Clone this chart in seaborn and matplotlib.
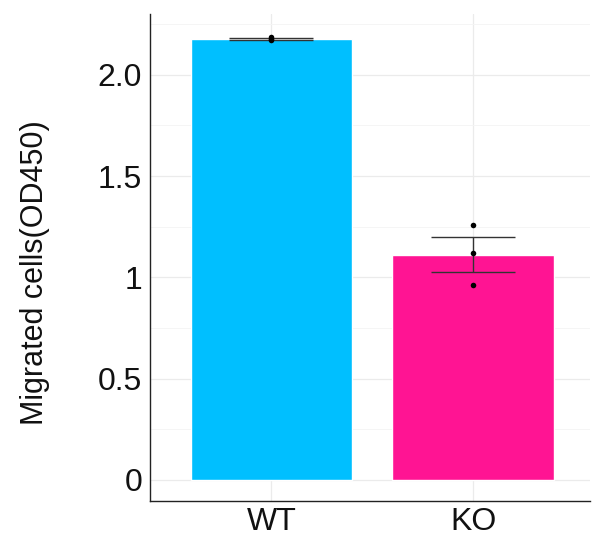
import numpy as np
import pandas as pd
import matplotlib.pyplot as plt
import seaborn as sns

# values
groups = ["WT", "KO"]
wt_points = [2.185, 2.175, 2.17]
ko_points = [1.256, 1.118, 0.96]
bar_colors = ["#00BFFF", "#FF1493"]
y_ticks = [0, 0.5, 1, 1.5, 2.0]
y_tick_labels = ["0", "0.5", "1", "1.5", "2.0"]

df = pd.DataFrame({
    "group": ["WT"] * len(wt_points) + ["KO"] * len(ko_points),
    "value": wt_points + ko_points,
})
stats = df.groupby("group", sort=False)["value"].agg(["mean", "std", "count"])
stats["se"] = stats["std"] / np.sqrt(stats["count"])

sns.set_style("white")
plt.rcParams["font.family"] = ["Liberation Sans", "DejaVu Sans"]

fig, ax = plt.subplots(figsize=(5.92, 5.40), dpi=100)

sns.barplot(data=df, x="group", y="value", order=groups, hue="group",
            palette=bar_colors, errorbar=None, width=0.8, saturation=1,
            legend=False, ax=ax, zorder=2)

ax.errorbar(x=range(len(groups)), y=stats.loc[groups, "mean"],
            yerr=stats.loc[groups, "se"], fmt="none", ecolor="#333333",
            elinewidth=1, capsize=30, capthick=1, zorder=3)

sns.stripplot(data=df, x="group", y="value", order=groups, jitter=False,
              color="black", size=4, ax=ax, zorder=4)

ax.set_xlim(-0.6, 1.58)
ax.set_ylim(-0.105, 2.3)
ax.set_yticks(y_ticks)
ax.set_yticklabels(y_tick_labels)
ax.set_yticks([0.25, 0.75, 1.25, 1.75, 2.25], minor=True)
ax.grid(True, which="major", color="#ebebeb", linewidth=0.9, zorder=0)
ax.grid(True, which="minor", axis="y", color="#f4f4f4", linewidth=0.6, zorder=0)
ax.set_axisbelow(True)

ax.set_xlabel("")
ax.set_ylabel("Migrated cells(OD450)", fontsize=22, color="#111111")
ax.yaxis.set_label_coords(-0.228, 0.47)
ax.tick_params(axis="both", labelsize=23, labelcolor="#111111", length=0)
ax.tick_params(axis="y", pad=6)
ax.tick_params(axis="x", pad=4)

sns.despine(ax=ax)
for side in ["left", "bottom"]:
    ax.spines[side].set_color("#222222")
    ax.spines[side].set_linewidth(1)

plt.subplots_adjust(left=0.254, right=0.997, top=0.974, bottom=0.072)
plt.savefig("out.png", dpi=100)
